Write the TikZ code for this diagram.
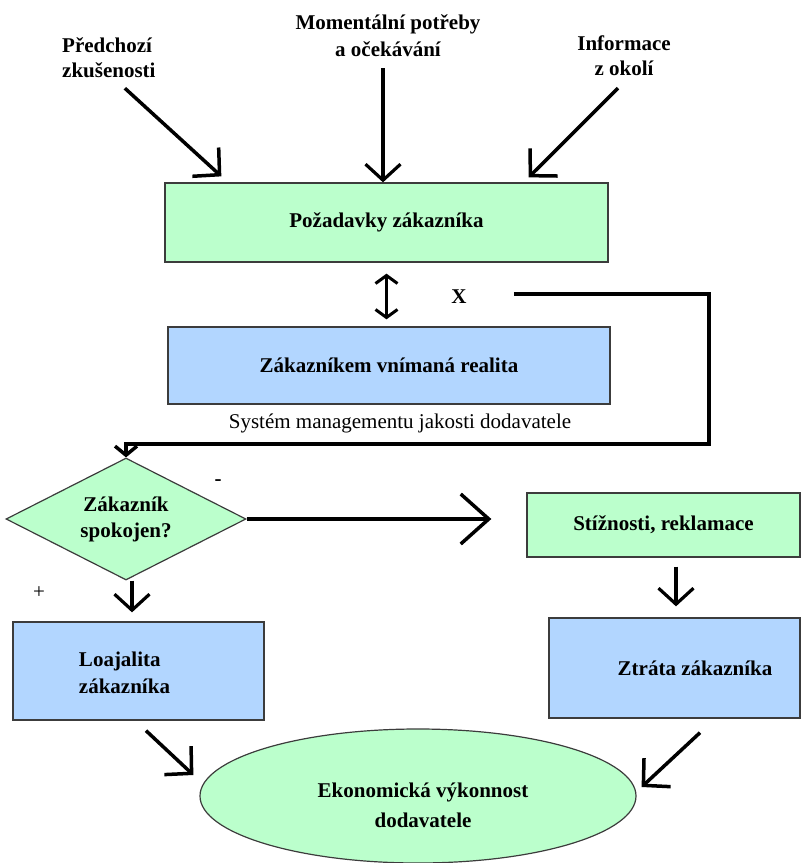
\documentclass[tikz,border=0pt]{standalone}
\usepackage{fontspec}
\setmainfont{Liberation Serif}
\usetikzlibrary{arrows.meta,shapes.geometric,calc}
\definecolor{mint}{RGB}{187,255,204}
\definecolor{sky}{RGB}{178,214,255}
\definecolor{edgegray}{RGB}{60,60,60}

\begin{document}
\begin{tikzpicture}[x=1pt,y=-1pt,
  lbl/.style={font=\fontsize{21}{27}\selectfont\bfseries, inner sep=0pt},
  tightlbl/.style={font=\fontsize{21}{25}\selectfont\bfseries, inner sep=0pt},
  plain/.style={font=\fontsize{21}{27}\selectfont, inner sep=0pt},
  box/.style={draw=edgegray, line width=1.3pt, inner sep=0pt,
    font=\fontsize{21}{27}\selectfont\bfseries},
  greenbox/.style={box, fill=mint},
  bluebox/.style={box, fill=sky},
  bigarrow/.style={line width=3.5pt, -{Straight Barb[length=19pt,width=39pt]}},
  midarrow/.style={line width=3.2pt, -{Straight Barb[length=16pt,width=35pt]}},
  feedline/.style={line width=3.5pt}
]
\useasboundingbox (0,0) rectangle (802,863);

% input factors
\node[tightlbl, align=left, anchor=west] (prev) at (62,58) {Předchozí\\zkušenosti};
\node[lbl, align=center] (mom) at (388,36) {Momentální potřeby\\a očekávání};
\node[tightlbl, align=center] (inf) at (624,56) {Informace\\z okolí};

% customer requirements and perceived reality
\node[greenbox, minimum width=443pt, minimum height=79pt] (req) at (386.5,222.5) {Požadavky zákazníka};
\node[bluebox, minimum width=442pt, minimum height=77pt] (real) at (389,365.5) {Zákazníkem vnímaná realita};
\node[plain] (sys) at (400,423) {Systém managementu jakosti dodavatele};
\node[lbl] (xmark) at (459,297) {X};

% decision
\node[diamond, draw=edgegray, fill=mint, line width=1.2pt, aspect=2,
  minimum width=240pt, minimum height=122pt, inner sep=0pt,
  font=\fontsize{21}{26}\selectfont\bfseries, align=center] (dia) at (126,519) {Zákazník\\spokojen?};
\node[lbl] (minus) at (218,483) {-};
\node[plain] (plus) at (39,593) {+};

% outcomes
\node[greenbox, minimum width=273pt, minimum height=64pt] (compl) at (663.5,525) {Stížnosti, reklamace};
\node[bluebox, minimum width=251pt, minimum height=98pt,
  label={[lbl, font=\fontsize{21}{27}\selectfont\bfseries, align=left, xshift=-14pt, yshift=-1.5pt]center:Loajalita\\zákazníka}] (loyal) at (138.5,671) {};
\node[bluebox, minimum width=251pt, minimum height=100pt,
  label={[lbl, xshift=20.5pt]center:Ztráta zákazníka}] (loss) at (674.5,668) {};
\node[ellipse, draw=edgegray, fill=mint, line width=1.2pt,
  minimum width=436pt, minimum height=134pt, inner sep=0pt,
  label={[lbl, font=\fontsize{21}{30}\selectfont\bfseries, align=center, xshift=5pt, yshift=-9pt]center:Ekonomická výkonnost\\dodavatele}] (eco) at (418,796) {};

% arrows into the requirements
\draw[bigarrow] ($(prev.south)+(16,10)$) -- ($(req.north west)+(57,-6)$);
\draw[midarrow] ($(mom.south)+(-5,11)$) coordinate (m1) -- (m1 |- req.north);
\draw[bigarrow] ($(inf.south)+(-6,12)$) -- ($(req.north east)+(-80,-5)$);

% comparison of requirements and reality
\draw[line width=3pt, {Straight Barb[length=8pt,width=22pt]}-{Straight Barb[length=8pt,width=22pt]},
  shorten <=11pt, shorten >=7pt] (req.south) -- (req.south |- real.north);

% feedback loop to the decision
\draw[feedline, -{Straight Barb[length=9pt,width=22pt]}]
  ($(xmark.east)+(47,-3)$) -- ++(195,0) coordinate (fbA)
  -- (fbA |- 0,444) coordinate (fbB)
  -- (fbB -| dia.north) -- (dia.north);

% decision branches
\draw[line width=3.5pt, -{Straight Barb[length=28pt,width=50pt]}, shorten >=35pt]
  (dia.east) -- (dia.east -| compl.west);
\draw[midarrow, shorten >=9pt] ($(dia.south)+(6,0)$) coordinate (d1) -- (d1 |- loyal.north);
\draw[midarrow, shorten >=11pt] ($(compl.south)+(12.5,9)$) coordinate (c1) -- (c1 |- loss.north);

% effects on supplier performance
\draw[bigarrow] ($(loyal.south)+(7.5,10)$) -- ($(eco.west)+(-6,-21)$);
\draw[bigarrow] ($(loss.south)+(25.5,14)$) -- ($(eco.east)+(5,-9)$);
\end{tikzpicture}
\end{document}
